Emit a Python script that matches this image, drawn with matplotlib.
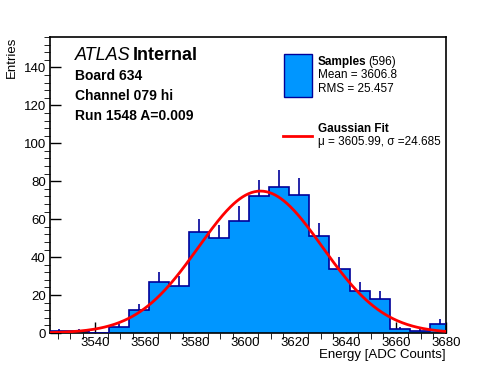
import numpy as np
import matplotlib.pyplot as plt

plt.rcParams['font.family'] = ['Liberation Sans', 'DejaVu Sans']

# histogram data (8 ADC count bins)
bin_edges = np.arange(3521.5, 3682.0, 8.0)
counts = [1, 1, 0, 3, 12, 27, 25, 53, 50, 59, 72, 77, 73, 51, 34, 22, 18, 2, 1, 5]

# fit parameters
fit_mu = 3605.99
fit_sigma = 24.685
fit_amp = 74.8

xticks = [3540, 3560, 3580, 3600, 3620, 3640, 3660, 3680]
yticks = [0, 20, 40, 60, 80, 100, 120, 140]

fill_col = '#0096ff'
edge_col = '#000099'

fig = plt.figure(figsize=(4.96, 3.72), dpi=100)
ax = fig.add_axes([0.1008, 0.1048, 0.7984, 0.7957])

counts = np.array(counts, dtype=float)
centers = 0.5 * (bin_edges[:-1] + bin_edges[1:])

# upper error bars first, histogram on top
ax.vlines(centers, counts, counts + np.sqrt(counts), color=edge_col, lw=1.2, zorder=1)
ax.stairs(counts, bin_edges, fill=True, color=fill_col, zorder=2)
ax.stairs(counts, bin_edges, color=edge_col, lw=1.2, zorder=3)

xf = np.linspace(3522, 3680, 400)
yf = fit_amp * np.exp(-0.5 * ((xf - fit_mu) / fit_sigma) ** 2)
ax.plot(xf, yf, color='red', lw=2, zorder=4)

ax.set_xlim(3522, 3680)
ax.set_ylim(0, 156)
ax.set_xticks(xticks)
ax.set_yticks(yticks)
ax.set_xticks(np.arange(3525, 3681, 5), minor=True)
ax.set_yticks(np.arange(0, 157, 4), minor=True)
ax.tick_params(direction='in', labelsize=9.5, width=1, pad=3)
ax.tick_params(which='major', length=8)
ax.tick_params(which='minor', length=4)
for s in ax.spines.values():
    s.set_linewidth(1.2)

ax.set_xlabel('Energy [ADC Counts]', fontsize=9.5, loc='right', labelpad=0)
fig.text(12 / 496, 1 - 37 / 372, 'Entries', fontsize=9.5, rotation=90, ha='center', va='top')

# ATLAS label and run info
fig.text(0.151, 0.84, 'ATLAS', fontsize=13, style='italic')
fig.text(0.268, 0.84, 'Internal', fontsize=13, weight='bold')
fig.text(0.151, 0.784, 'Board 634', fontsize=10, weight='bold')
fig.text(0.151, 0.731, 'Channel 079 hi', fontsize=10, weight='bold')
fig.text(0.151, 0.678, 'Run 1548 A=0.009', fontsize=10, weight='bold')

# legend drawn by hand
ax_leg = fig.add_axes([0, 0, 1, 1], facecolor='none')
ax_leg.set_axis_off()
ax_leg.set_xlim(0, 496)
ax_leg.set_ylim(372, 0)
ax_leg.add_patch(plt.Rectangle((283.5, 53.5), 28, 43, facecolor=fill_col, edgecolor=edge_col, lw=1))
ax_leg.plot([283, 312], [136, 136], color='red', lw=2)
ax_leg.text(318, 62, 'Samples', fontsize=8.5, weight='bold', va='center')
ax_leg.text(368, 62, '(596)', fontsize=8.5, va='center')
ax_leg.text(318, 75.5, 'Mean = 3606.8', fontsize=8.5, va='center')
ax_leg.text(318, 89, 'RMS = 25.457', fontsize=8.5, va='center')
ax_leg.text(318, 129, 'Gaussian Fit', fontsize=8.5, weight='bold', va='center')
ax_leg.text(318, 142, 'μ = 3605.99, σ =24.685', fontsize=8.5, va='center')

fig.savefig('out.png', dpi=100)
